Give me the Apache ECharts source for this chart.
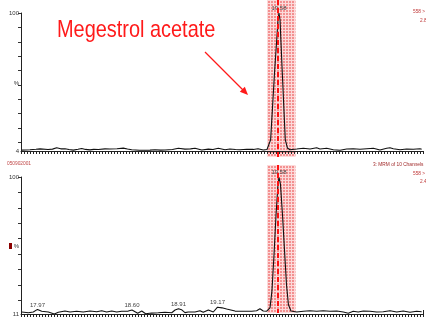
<!DOCTYPE html>
<html>
<head>
<meta charset="utf-8">
<script src="https://cdn.jsdelivr.net/npm/echarts@6/dist/echarts.min.js"></script>
<style>
  html, body { margin: 0; padding: 0; background: #fff; }
  #chart { width: 426px; height: 319px; }
</style>
</head>
<body>
<div id="chart"></div>
<script>
// retention time (min), relative intensity (%)
const topTrace = [
  [17.865, 4.6], [17.92, 4.9], [17.96, 5.2], [17.987, 5.5], [18.04, 5.0], [18.07, 5.3],
  [18.098, 6.3], [18.125, 5.5], [18.153, 5.6], [18.18, 5.0], [18.209, 4.6], [18.24, 5.2],
  [18.265, 5.8], [18.29, 5.1], [18.32, 4.8], [18.345, 5.1], [18.375, 5.0], [18.42, 5.5],
  [18.453, 5.4], [18.5, 5.6], [18.542, 6.0], [18.57, 5.4], [18.598, 4.9], [18.65, 4.5],
  [18.687, 4.5], [18.72, 4.6], [18.753, 4.9], [18.79, 4.6], [18.82, 4.7], [18.87, 5.0],
  [18.909, 5.9], [18.953, 5.3], [18.99, 5.5], [19.02, 5.9], [19.065, 4.7], [19.109, 5.3],
  [19.14, 5.0], [19.175, 5.9], [19.22, 4.9], [19.253, 5.4], [19.29, 5.0], [19.32, 4.9],
  [19.365, 5.2], [19.409, 5.1], [19.44, 5.6], [19.475, 4.7], [19.5, 5.0], [19.513, 6.1],
  [19.524, 11.7], [19.537, 34.8], [19.55, 58.3], [19.564, 80], [19.573, 95], [19.58, 100],
  [19.587, 95], [19.593, 80], [19.602, 58.3], [19.612, 34.8], [19.622, 11.7], [19.636, 6.1],
  [19.653, 4.9], [19.698, 5.4], [19.742, 5.9], [19.787, 5.4], [19.831, 6.3], [19.853, 5.4],
  [19.898, 5.9], [19.942, 4.9], [19.987, 4.5], [20.031, 5.4], [20.075, 5.6], [20.12, 5.2],
  [20.165, 5.6], [20.209, 5.9], [20.253, 4.7], [20.298, 5.9], [20.32, 6.3], [20.342, 5.6],
  [20.387, 4.9], [20.431, 5.4], [20.475, 5.2], [20.52, 5.6], [20.531, 5.2]
];
const bottomTrace = [
  [17.865, 12.3], [17.909, 11.8], [17.942, 12.3], [17.97, 14.0], [17.998, 12.8], [18.042, 12.3],
  [18.082, 11.0], [18.109, 12.1], [18.153, 12.9], [18.187, 12.3], [18.231, 12.8], [18.275, 12.3],
  [18.32, 12.9], [18.365, 12.5], [18.398, 13.1], [18.431, 12.3], [18.465, 12.9], [18.498, 12.3],
  [18.531, 12.8], [18.575, 12.9], [18.60, 13.6], [18.638, 11.5], [18.665, 12.9], [18.691, 11.2],
  [18.731, 11.6], [18.775, 11.8], [18.82, 12.1], [18.865, 11.8], [18.887, 13.6], [18.91, 14.4],
  [18.93, 13.8], [18.953, 11.9], [18.975, 12.3], [19.02, 12.3], [19.053, 13.1], [19.075, 12.1],
  [19.109, 13.6], [19.142, 12.3], [19.155, 12.8], [19.17, 15.4], [19.2, 15.0], [19.231, 14.2],
  [19.287, 12.9], [19.342, 12.8], [19.398, 12.8], [19.431, 13.1], [19.453, 14.4], [19.475, 12.9],
  [19.498, 12.8], [19.507, 13], [19.52, 15], [19.533, 26], [19.547, 50], [19.56, 75],
  [19.573, 95], [19.58, 100], [19.59, 95], [19.603, 76], [19.617, 52], [19.63, 30],
  [19.643, 17], [19.66, 13], [19.698, 12.3], [19.742, 12.8], [19.787, 13.1], [19.831, 12.8],
  [19.875, 13.1], [19.92, 12.8], [19.965, 12.9], [20.009, 12.3], [20.042, 11.5], [20.075, 12.8],
  [20.108, 12.3], [20.142, 12.9], [20.187, 12.8], [20.231, 12.3], [20.275, 12.5], [20.32, 13.1],
  [20.365, 12.3], [20.408, 12.9], [20.453, 12.1], [20.498, 12.8], [20.531, 12.5]
];
const topPeaks = [19.58];
const bottomPeaks = [17.97, 18.60, 18.91, 19.17, 19.58];
const windowStart = 19.50;
const windowEnd = 19.69;
const timeMin = 17.86;
const timeMax = 20.54;
const topTicks = [100, 90, 80, 70, 60, 50, 40, 30, 20, 10];
const bottomTicks = [100, 90, 80, 70, 60, 50, 40, 30, 20];

const sans = '"Liberation Sans", Arial, sans-serif';

const chart = echarts.init(document.getElementById('chart'));

function withLabels(trace, peaks) {
  return trace.map(function (p) {
    if (peaks.indexOf(p[0]) >= 0) {
      return { value: p, label: { show: true } };
    }
    return p;
  });
}

function xAxisOpt(gridIndex) {
  return {
    type: 'value', gridIndex: gridIndex, min: timeMin, max: timeMax, interval: 0.02,
    z: 5,
    axisLine: { lineStyle: { color: '#222', width: 1 } },
    axisTick: { length: 3, lineStyle: { color: '#222', width: 1 } },
    axisLabel: { show: false },
    splitLine: { show: false }
  };
}

function yAxisOpt(gridIndex, min, ticks, mid) {
  return {
    type: 'value', gridIndex: gridIndex, min: min, max: 100,
    z: 5,
    axisLine: { show: true, lineStyle: { color: '#222', width: 1 } },
    axisTick: { show: true, length: 3, customValues: ticks, lineStyle: { color: '#333' } },
    axisLabel: {
      customValues: [min, mid, 100], margin: 2, fontSize: 6, color: '#333', fontFamily: sans,
      formatter: function (v) { return v === mid ? '%' : String(v); }
    },
    splitLine: { show: false }
  };
}

function seriesOpt(idx, trace, peaks) {
  return {
    type: 'line', xAxisIndex: idx, yAxisIndex: idx,
    data: withLabels(trace, peaks),
    symbol: 'circle', symbolSize: 1, showSymbol: true, showAllSymbol: true,
    itemStyle: { color: 'rgba(0,0,0,0)', borderWidth: 0 },
    silent: true, clip: false,
    lineStyle: { color: '#111', width: 1.1 },
    labelLayout: { hideOverlap: false },
    label: {
      show: false, position: 'top', distance: 1, fontSize: 6, color: '#444', fontFamily: sans,
      formatter: function (p) { return p.value[0].toFixed(2); }
    }
  };
}

chart.setOption({
  animation: false,
  grid: [
    { left: 21, top: 13, width: 402, height: 138 },
    { left: 21, top: 177, width: 402, height: 137 }
  ],
  xAxis: [xAxisOpt(0), xAxisOpt(1)],
  yAxis: [yAxisOpt(0, 4, topTicks, 51), yAxisOpt(1, 11, bottomTicks, 55)],
  series: [seriesOpt(0, topTrace, topPeaks), seriesOpt(1, bottomTrace, bottomPeaks)]
});

// pink hatched window round the peak
const pat = document.createElement('canvas');
pat.width = 3; pat.height = 3;
const pc = pat.getContext('2d');
pc.fillStyle = '#fcdada';
pc.fillRect(0, 0, 3, 3);
pc.fillStyle = '#f39090';
pc.fillRect(1, 1, 2, 2);

const x0 = chart.convertToPixel({ xAxisIndex: 0 }, windowStart);
const x1 = chart.convertToPixel({ xAxisIndex: 0 }, windowEnd);
const xp = chart.convertToPixel({ xAxisIndex: 0 }, topPeaks[0]) - 1;

function txt(x, y, text, size, color) {
  return {
    type: 'text', x: x, y: y, z: 20, scaleX: 0.8,
    style: { text: text, fontSize: size, fontFamily: sans, fill: color, textVerticalAlign: 'middle' }
  };
}

chart.setOption({
  graphic: [
    { type: 'rect', z: 1, shape: { x: x0, y: 0, width: x1 - x0, height: 157 }, style: { fill: { image: pat, repeat: 'repeat' } } },
    { type: 'rect', z: 1, shape: { x: x0, y: 165, width: x1 - x0, height: 148 }, style: { fill: { image: pat, repeat: 'repeat' } } },
    { type: 'line', z: 15, shape: { x1: xp, y1: 0, x2: xp, y2: 157 }, style: { stroke: '#ff1010', lineWidth: 2, lineDash: [5, 3] } },
    { type: 'line', z: 15, shape: { x1: xp, y1: 165, x2: xp, y2: 313 }, style: { stroke: '#ff1010', lineWidth: 2, lineDash: [5, 3] } },
    {
      type: 'text', x: 57, y: 30, z: 20, scaleX: 0.83,
      style: { text: 'Megestrol acetate', fontSize: 24, fontFamily: sans, fill: '#ff1a1a', textVerticalAlign: 'middle' }
    },
    { type: 'line', z: 20, shape: { x1: 205, y1: 52, x2: 243, y2: 90 }, style: { stroke: '#ff1a1a', lineWidth: 1.3 } },
    { type: 'polygon', z: 20, shape: { points: [[248, 95], [239.8, 91.8], [244.8, 86.8]] }, style: { fill: '#ff1a1a' } },
    txt(413, 11, '558 >', 6, '#c03a3a'),
    txt(420, 20, '2.8', 6, '#c03a3a'),
    txt(7, 163.5, '050902001', 6, '#c04848'),
    txt(373, 164.5, '3: MRM of 10 Channels', 6, '#a02828'),
    txt(413, 173.5, '558 >', 6, '#c03a3a'),
    txt(420, 181.5, '2.4', 6, '#c03a3a'),
    { type: 'rect', z: 20, shape: { x: 9, y: 243, width: 3, height: 6 }, style: { fill: '#8b0000' } },
    { type: 'line', z: 20, shape: { x1: 423.5, y1: 310, x2: 423.5, y2: 316 }, style: { stroke: '#222', lineWidth: 1 } }
  ]
});
</script>
</body>
</html>
